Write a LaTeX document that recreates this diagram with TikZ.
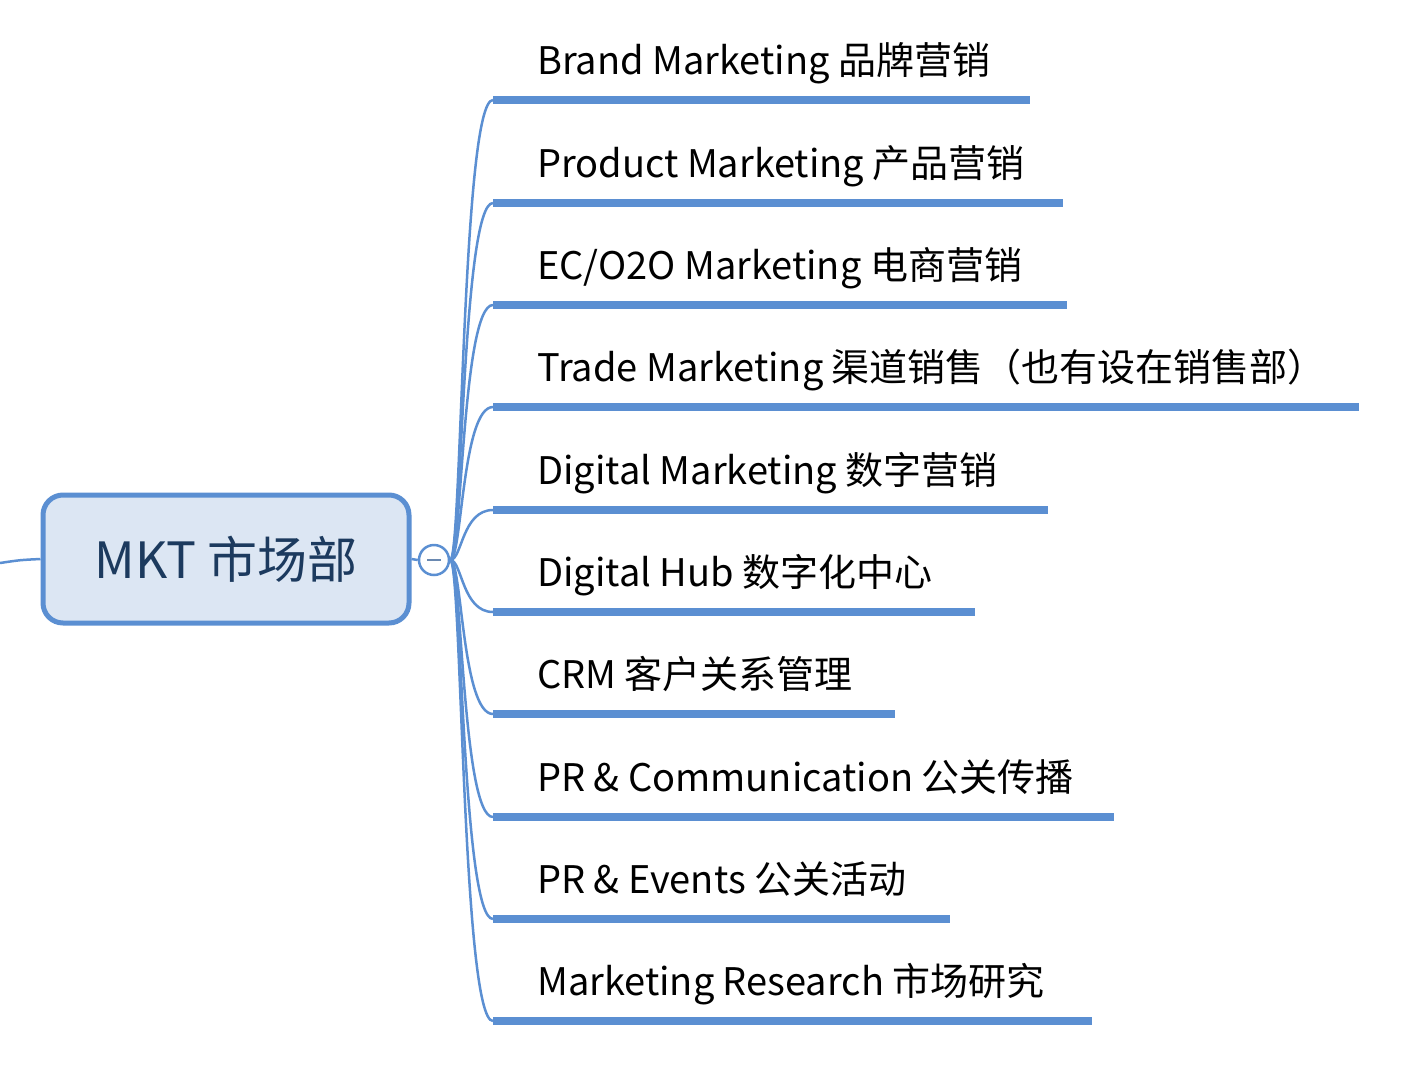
\documentclass[tikz,border=0pt]{standalone}
\usepackage{fontspec}
\setmainfont{Noto Sans CJK SC}
\definecolor{bl}{HTML}{5B8FD2}
\definecolor{fillb}{HTML}{DCE6F3}
\definecolor{txt}{HTML}{1C3A5E}
\begin{document}
\begin{tikzpicture}[x=1pt,y=-1pt]
\tikzset{lbl/.style={anchor=base west,inner sep=0pt,font=\fontsize{38}{44}\selectfont,text=black},
 ul/.style={bl,line width=8pt},
 br/.style={bl,line width=2.5pt}}
\useasboundingbox (0,0) rectangle (1409,1080);
\node[draw=bl,line width=5pt,fill=fillb,rounded corners=20pt,minimum width=366pt,minimum height=128pt,text=txt,font=\fontsize{50}{56}\selectfont] (root) at (226,559) {MKT 市场部};
\coordinate (lft) at (0,563);
\draw[br] (lft) .. controls (20,560) .. (root.west);
\node[circle,draw=bl,line width=2.5pt,fill=white,minimum size=30pt,inner sep=0pt] (c) at (434,560) {};
\draw[line width=2.5pt,color=bl!60!gray] (427,560) -- (441,560);
\draw[br] (root.east) -- (c.west);
\foreach \i/\y/\xe/\t in {1/100/1030/{Brand Marketing 品牌营销},2/203/1063/{Product Marketing 产品营销},3/305/1067/{EC/O2O Marketing 电商营销},4/407/1359/{Trade Marketing 渠道销售（也有设在销售部）},5/510/1048/{Digital Marketing 数字营销},6/612/975/{Digital Hub 数字化中心},7/714/895/{CRM 客户关系管理},8/817/1114/{PR \& Communication 公关传播},9/919/950/{PR \& Events 公关活动},10/1021/1092/{Marketing Research 市场研究}}{
 \coordinate (s\i) at (493,\y);
 \coordinate (e\i) at (\xe,\y);
 \draw[ul] (s\i) -- (e\i);
 \draw[br] (c.east) .. controls (462,560) and (462,\y) .. (s\i);
 \node[lbl] (t\i) at (537,\y-26) {\t};
}
\end{tikzpicture}
\end{document}
